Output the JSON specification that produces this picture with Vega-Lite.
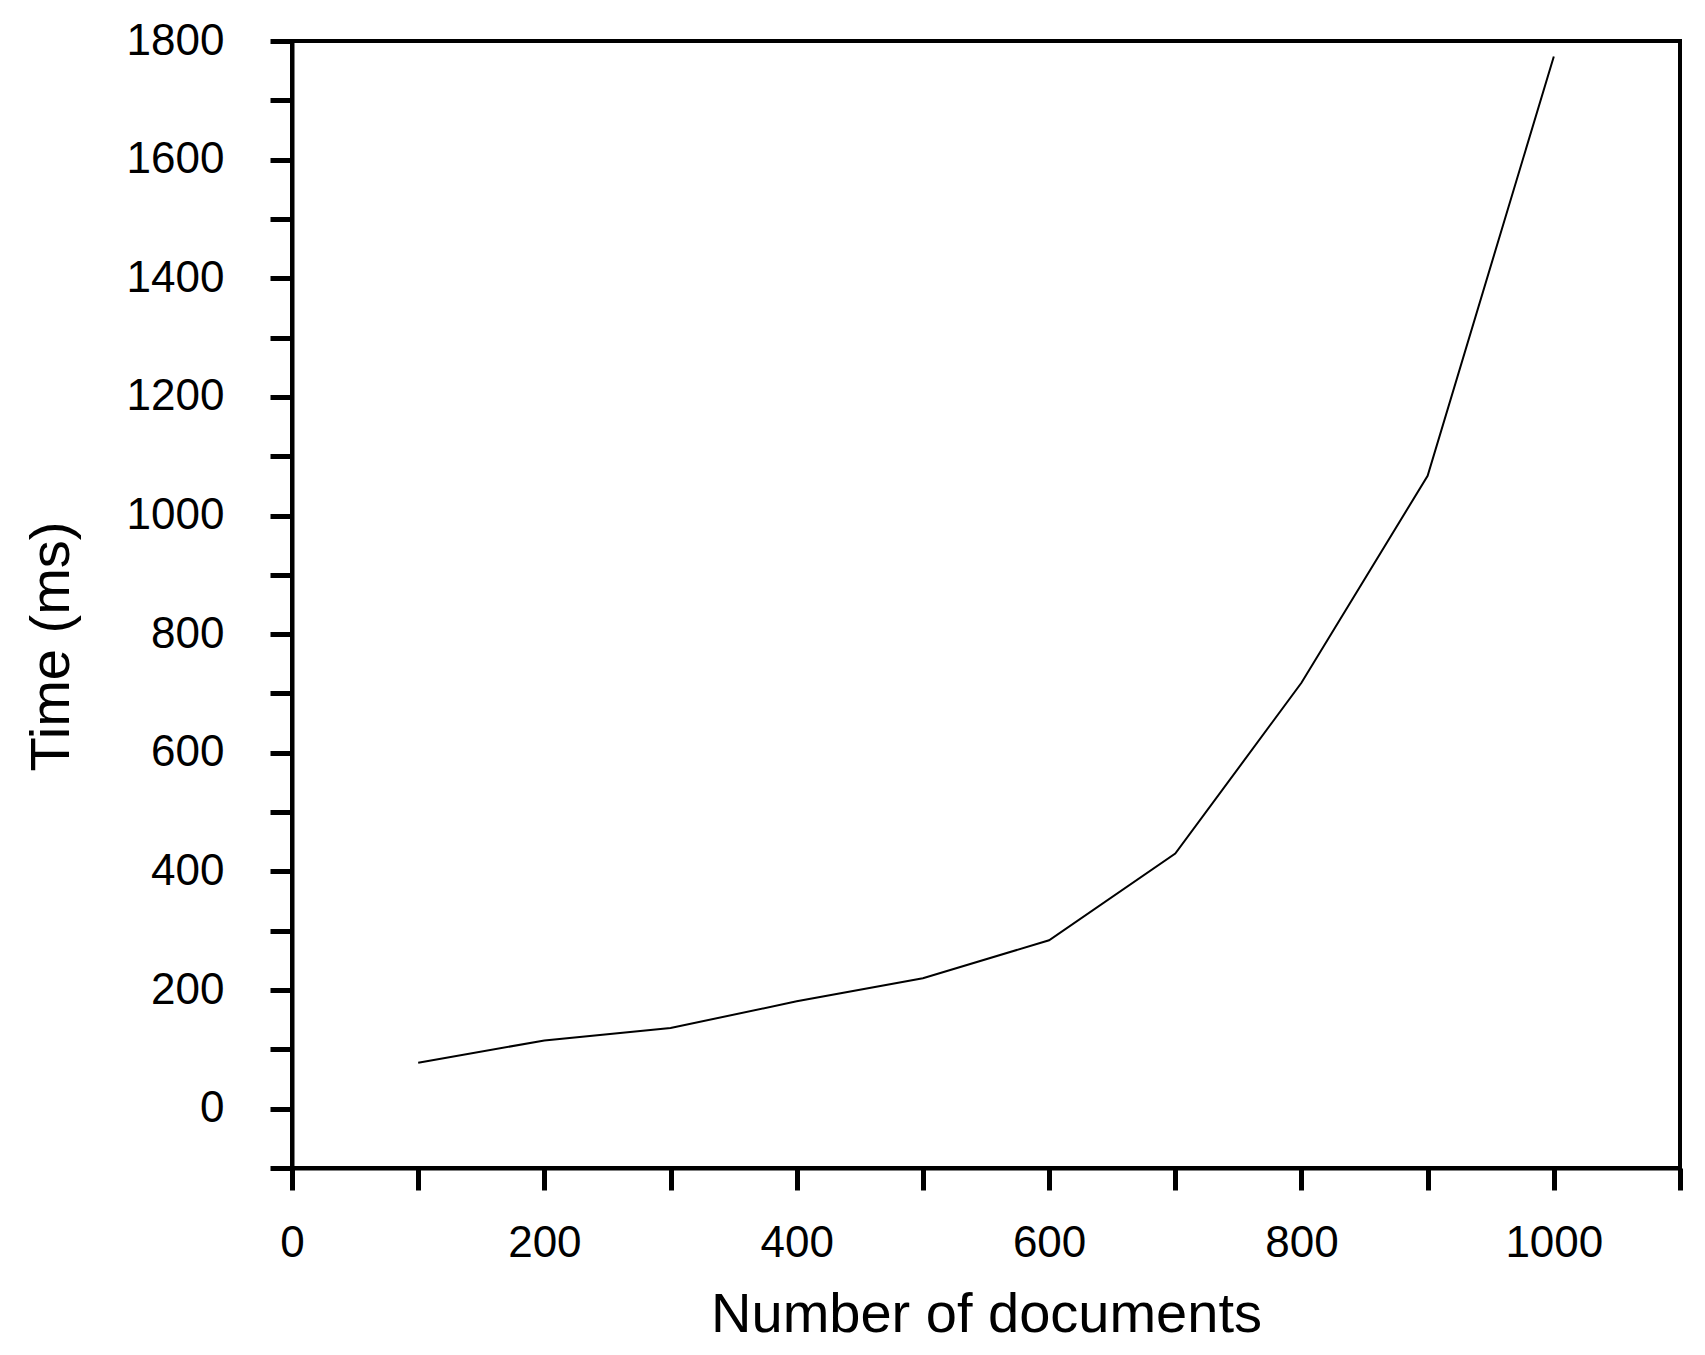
{
  "$schema": "https://vega.github.io/schema/vega-lite/v6.json",
  "width": 1388,
  "height": 1127,
  "autosize": {"type": "none"},
  "padding": {"left": 292, "top": 41, "right": 25, "bottom": 187},
  "background": "white",
  "config": {
    "view": {"stroke": "black", "strokeWidth": 4},
    "font": "Liberation Sans"
  },
  "data": {
    "values": [
      {"documents": 100, "time": 77.6},
      {"documents": 200, "time": 115},
      {"documents": 300, "time": 136},
      {"documents": 400, "time": 181},
      {"documents": 500, "time": 220},
      {"documents": 600, "time": 284},
      {"documents": 700, "time": 430},
      {"documents": 800, "time": 718},
      {"documents": 900, "time": 1067},
      {"documents": 1000, "time": 1774}
    ]
  },
  "mark": {"type": "line", "color": "black", "strokeWidth": 2},
  "encoding": {
    "x": {
      "field": "documents",
      "type": "quantitative",
      "scale": {"domain": [0, 1100], "nice": false, "zero": false},
      "axis": {
        "title": "Number of documents",
        "titleFontSize": 56,
        "titleFontWeight": "normal",
        "titleColor": "black",
        "titleX": 694,
        "titleY": 163,
        "titleBaseline": "alphabetic",
        "titleAlign": "center",
        "values": [0, 100, 200, 300, 400, 500, 600, 700, 800, 900, 1000, 1100],
        "labelExpr": "datum.value % 200 === 0 ? datum.label : ''",
        "format": "d",
        "labelFontSize": 44,
        "labelColor": "black",
        "labelBaseline": "alphabetic",
        "labelPadding": 66,
        "labelOverlap": false,
        "labelFlush": false,
        "tickSize": 22,
        "tickWidth": 5,
        "tickColor": "black",
        "domainColor": "black",
        "domainWidth": 4,
        "grid": false,
        "encode": {"ticks": {"update": {"y2": {"signal": "datum.value % 200 === 0 ? 22 : 12"}, "strokeWidth": {"value": 5}}}}
      }
    },
    "y": {
      "field": "time",
      "type": "quantitative",
      "scale": {"domain": [-100, 1800], "nice": false, "zero": false},
      "axis": {
        "title": "Time (ms)",
        "titleFontSize": 56,
        "titleFontWeight": "normal",
        "titleColor": "black",
        "titleAngle": -90,
        "titleX": -224,
        "titleY": 605,
        "titleBaseline": "alphabetic",
        "titleAlign": "center",
        "values": [-100, 0, 100, 200, 300, 400, 500, 600, 700, 800, 900, 1000, 1100, 1200, 1300, 1400, 1500, 1600, 1700, 1800],
        "labelExpr": "datum.value % 200 === 0 ? datum.label : ''",
        "format": "d",
        "labelFontSize": 44,
        "labelColor": "black",
        "labelPadding": 46,
        "labelOverlap": false,
        "labelFlush": false,
        "tickSize": 22,
        "tickWidth": 5,
        "tickColor": "black",
        "domainColor": "black",
        "domainWidth": 4,
        "grid": false,
        "encode": {"ticks": {"update": {"x2": {"signal": "datum.value % 200 === 0 ? -22 : -12"}, "strokeWidth": {"value": 5}}}}
      }
    }
  }
}
